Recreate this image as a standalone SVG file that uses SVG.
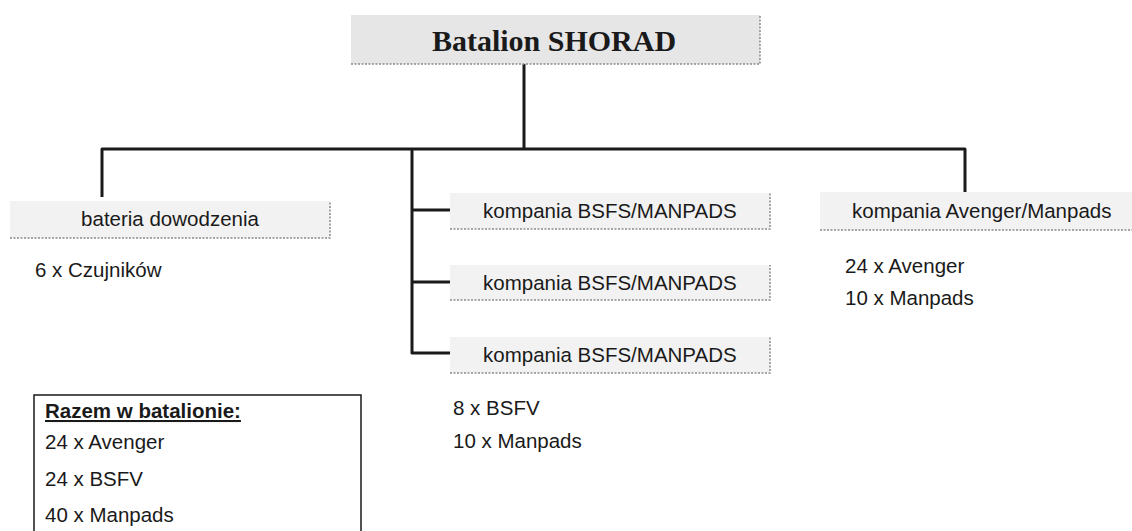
<svg xmlns="http://www.w3.org/2000/svg" width="1132" height="531" viewBox="0 0 1132 531">
<style>
.box{fill:#f2f2f2}
.edge{stroke:#8a8a8a;stroke-width:1.5;stroke-dasharray:2 1.5;fill:none}
.lbl{font-family:"Liberation Sans",Arial,sans-serif;font-size:20.5px;fill:#1a1a1a}
.conn{stroke:#1a1a1a;stroke-width:3;fill:none;stroke-linejoin:round}
</style>
<rect width="1132" height="531" fill="#ffffff"/>
<g id="connectors">
<line class="conn" x1="524" y1="64" x2="524" y2="150"/>
<path class="conn" d="M102 197 V149 H965 V192"/>
<path class="conn" d="M412 149 V353 H452"/>
<line class="conn" x1="412" y1="210" x2="452" y2="210"/>
<line class="conn" x1="412" y1="282" x2="452" y2="282"/>
</g>
<g id="batalion">
<rect x="351" y="15" width="409" height="49" fill="#e6e6e6"/>
<path class="edge" d="M351 64 H760 V15"/>
<text x="554" y="51" text-anchor="middle" font-family="'Liberation Serif','Times New Roman',serif" font-weight="bold" font-size="30" fill="#1a1a1a">Batalion SHORAD</text>
</g>
<g id="bateria">
<rect class="box" x="10" y="201" width="320" height="37"/>
<path class="edge" d="M10 238 H330 V201"/>
<text class="lbl" x="170" y="226" text-anchor="middle">bateria dowodzenia</text>
<text class="lbl" x="35" y="277">6 x Czujników</text>
</g>
<g id="kompania1">
<rect class="box" x="450" y="193" width="320" height="36"/>
<path class="edge" d="M450 229 H770 V193"/>
<text class="lbl" x="483" y="218">kompania BSFS/MANPADS</text>
</g>
<g id="kompania2">
<rect class="box" x="450" y="265" width="320" height="35"/>
<path class="edge" d="M450 300 H770 V265"/>
<text class="lbl" x="483" y="290">kompania BSFS/MANPADS</text>
</g>
<g id="kompania3">
<rect class="box" x="450" y="337" width="320" height="36"/>
<path class="edge" d="M450 373 H770 V337"/>
<text class="lbl" x="483" y="362">kompania BSFS/MANPADS</text>
<text class="lbl" x="453" y="415">8 x BSFV</text>
<text class="lbl" x="453" y="448">10 x Manpads</text>
</g>
<g id="kompania-avenger">
<rect class="box" x="820" y="192" width="312" height="38"/>
<path class="edge" d="M820 230 H1132"/>
<text class="lbl" x="852" y="218">kompania Avenger/Manpads</text>
<text class="lbl" x="845" y="273">24 x Avenger</text>
<text class="lbl" x="845" y="305">10 x Manpads</text>
</g>
<g id="razem">
<path d="M34 540 V395 H361 V540" fill="none" stroke="#1a1a1a" stroke-width="1.5"/>
<text class="lbl" x="45" y="418" font-weight="bold" text-decoration="underline">Razem w batalionie:</text>
<text class="lbl" x="45" y="449">24 x Avenger</text>
<text class="lbl" x="45" y="486">24 x BSFV</text>
<text class="lbl" x="45" y="522">40 x Manpads</text>
</g>
</svg>
